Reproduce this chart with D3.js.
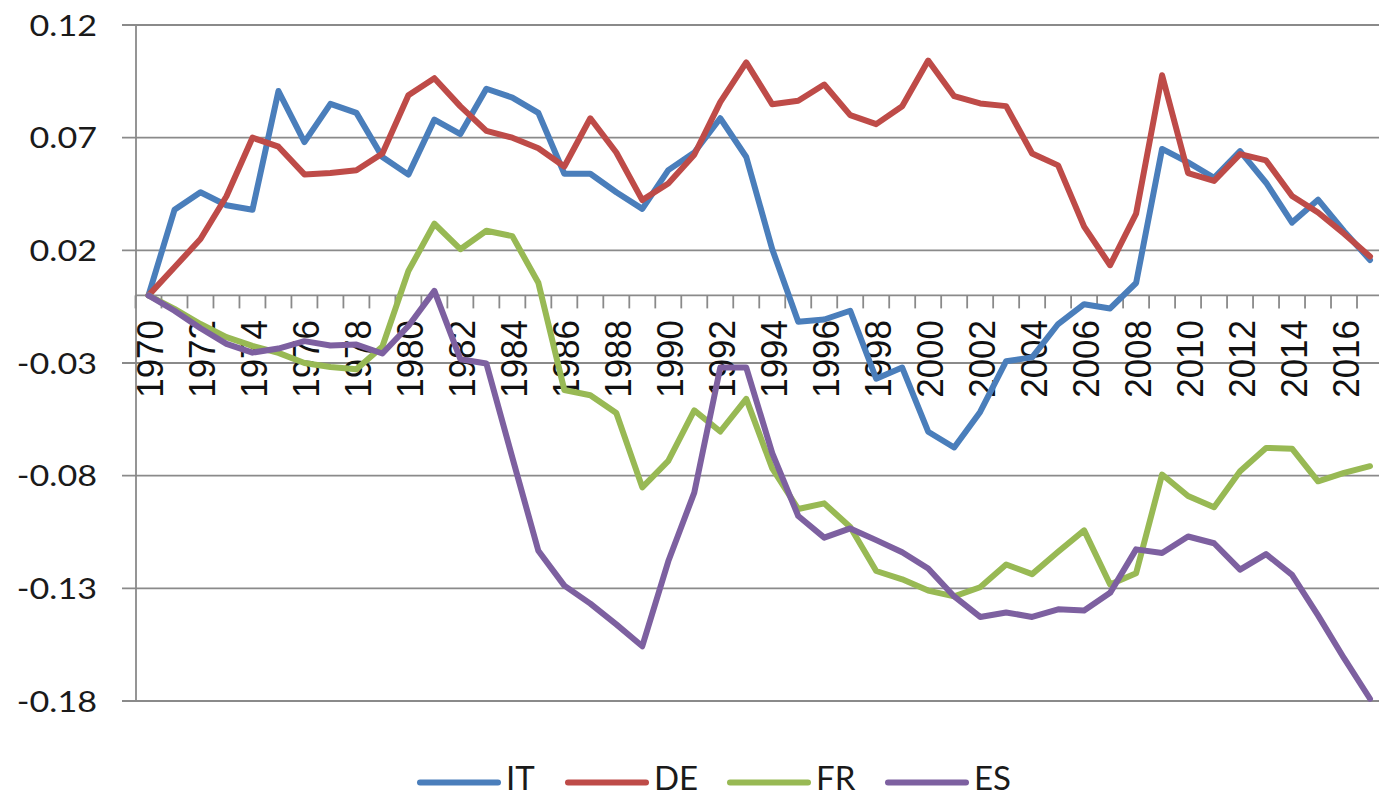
<!DOCTYPE html>
<html>
<head>
<meta charset="utf-8">
<script src="https://cdn.jsdelivr.net/npm/d3@7"></script>
<style>
  html, body { margin: 0; padding: 0; background: #fff; }
  svg { display: block; }
</style>
</head>
<body>
<svg id="chart" width="1379" height="798"></svg>
<script>
const years = [1970,1971,1972,1973,1974,1975,1976,1977,1978,1979,
  1980,1981,1982,1983,1984,1985,1986,1987,1988,1989,
  1990,1991,1992,1993,1994,1995,1996,1997,1998,1999,
  2000,2001,2002,2003,2004,2005,2006,2007,2008,2009,
  2010,2011,2012,2013,2014,2015,2016,2017];

const IT = [0,0.038,0.0458,0.040,0.038,0.0907,0.068,0.085,0.081,0.0614,
  0.0536,0.078,0.0716,0.0917,0.0878,0.081,0.054,0.054,0.0458,0.0384,
  0.0556,0.0634,0.0786,0.0614,0.0205,-0.0117,-0.0107,-0.0068,-0.037,-0.032,
  -0.0605,-0.0675,-0.0517,-0.0292,-0.0275,-0.0127,-0.0039,-0.0058,0.0055,0.065,
  0.059,0.0522,0.064,0.050,0.0323,0.0425,0.0285,0.0157];

const DE = [0,0.0125,0.025,0.044,0.070,0.066,0.0537,0.0543,0.0555,0.063,
  0.0888,0.0964,0.0839,0.073,0.070,0.0653,0.0572,0.0786,0.0634,0.0423,
  0.0497,0.0624,0.0858,0.1034,0.0848,0.0864,0.0936,0.080,0.076,0.0839,
  0.1042,0.0884,0.0852,0.084,0.063,0.0577,0.0305,0.0134,0.0363,0.0977,
  0.0543,0.0508,0.0627,0.0599,0.0441,0.0368,0.0274,0.0173];

const FR = [0,-0.006,-0.0127,-0.0185,-0.0224,-0.0255,-0.030,-0.0318,-0.0328,-0.0227,
  0.0108,0.0318,0.0205,0.0287,0.0263,0.0056,-0.042,-0.0443,-0.0522,-0.0852,
  -0.0734,-0.051,-0.0604,-0.0459,-0.0768,-0.0948,-0.0923,-0.1028,-0.1223,-0.126,
  -0.131,-0.1336,-0.1295,-0.1194,-0.1237,-0.1138,-0.1043,-0.1283,-0.1233,-0.0795,
  -0.089,-0.094,-0.078,-0.0677,-0.068,-0.0825,-0.0788,-0.0758];

const ES = [0,-0.0068,-0.0146,-0.0215,-0.0254,-0.0236,-0.0203,-0.0222,-0.0218,-0.0258,
  -0.0136,0.002,-0.0283,-0.0302,-0.072,-0.1133,-0.1288,-0.1368,-0.146,-0.1557,
  -0.118,-0.0875,-0.032,-0.032,-0.070,-0.0979,-0.1075,-0.1034,-0.1086,-0.114,
  -0.1212,-0.1336,-0.1427,-0.1407,-0.1427,-0.1393,-0.1398,-0.132,-0.1127,-0.1143,
  -0.107,-0.110,-0.1217,-0.1148,-0.124,-0.142,-0.161,-0.179];

const seriesNames = ["IT","DE","FR","ES"];
const seriesValues = [IT, DE, FR, ES];
const seriesColors = ["#4a7ebb","#be4b48","#98b954","#7d60a0"];

const yTicks = [0.12, 0.07, 0.02, -0.03, -0.08, -0.13, -0.18];
const xTickLabels = [1970,1972,1974,1976,1978,1980,1982,1984,1986,1988,1990,1992,
  1994,1996,1998,2000,2002,2004,2006,2008,2010,2012,2014,2016];

const svg = d3.select("#chart");
const plotLeft = 135.5, plotRight = 1383, plotTop = 25, plotBottom = 701;
const gridColor = "#8a8a8a";

const x = d3.scaleBand().domain(years).range([plotLeft, plotRight]).padding(0);
const y = d3.scaleLinear().domain([-0.18, 0.12]).range([plotBottom, plotTop]);
const cx = d => x(d) + x.bandwidth() / 2;

// gridlines
svg.append("g").selectAll("line").data(yTicks).join("line")
  .attr("x1", 122).attr("x2", plotRight)
  .attr("y1", d => y(d)).attr("y2", d => y(d))
  .attr("stroke", gridColor).attr("stroke-width", 1.8);

// y axis
const yAxis = svg.append("g").attr("transform", `translate(${plotLeft},0)`)
  .call(d3.axisLeft(y).tickValues(yTicks).tickSize(0).tickPadding(0)
    .tickFormat(d => d.toFixed(2)));
yAxis.select(".domain").attr("stroke", gridColor).attr("stroke-width", 1.8);
yAxis.selectAll("text")
  .attr("x", 0).attr("dy", "0.36em")
  .attr("transform", "translate(-38.5,0) scale(1.22,1)")
  .attr("font-family", "Lato, 'Open Sans', sans-serif")
  .attr("font-size", 28).attr("fill", "#1a1a1a").attr("text-anchor", "end");

// x axis at zero
const y0 = y(0);
svg.append("line").attr("x1", plotLeft).attr("x2", plotRight)
  .attr("y1", y0).attr("y2", y0)
  .attr("stroke", gridColor).attr("stroke-width", 1.8);
const boundaries = years.map(d => x(d)).concat([plotRight]);
svg.append("g").selectAll("line").data(boundaries).join("line")
  .attr("x1", d => d).attr("x2", d => d)
  .attr("y1", y0).attr("y2", y0 + 13)
  .attr("stroke", gridColor).attr("stroke-width", 1.8);

svg.append("g").selectAll("text").data(xTickLabels).join("text")
  .attr("transform", d => `translate(${cx(d) + 1},320) rotate(-90) scale(1,1.08)`)
  .attr("text-anchor", "end").attr("dy", "0.36em")
  .attr("font-family", "'Liberation Sans', Arial, sans-serif")
  .attr("font-size", 35).attr("fill", "#111")
  .text(d => d);

// series
const line = d3.line().x((d, i) => cx(years[i])).y(d => y(d));
seriesValues.forEach((vals, k) => {
  svg.append("path").datum(vals)
    .attr("d", line)
    .attr("fill", "none")
    .attr("stroke", seriesColors[k])
    .attr("stroke-width", 6)
    .attr("stroke-linejoin", "round")
    .attr("stroke-linecap", "round");
});

// legend
const legendX = [420, 568, 730, 888];
const legendY = 782.5;
const lg = svg.append("g");
seriesNames.forEach((name, k) => {
  lg.append("line")
    .attr("x1", legendX[k]).attr("x2", legendX[k] + 78)
    .attr("y1", legendY).attr("y2", legendY)
    .attr("stroke", seriesColors[k]).attr("stroke-width", 6)
    .attr("stroke-linecap", "round");
  lg.append("text")
    .attr("x", legendX[k] + 86).attr("y", legendY - 4).attr("dy", "0.36em")
    .attr("font-family", "Lato, 'Open Sans', sans-serif")
    .attr("font-size", 33).attr("fill", "#1a1a1a")
    .text(name);
});
</script>
</body>
</html>
